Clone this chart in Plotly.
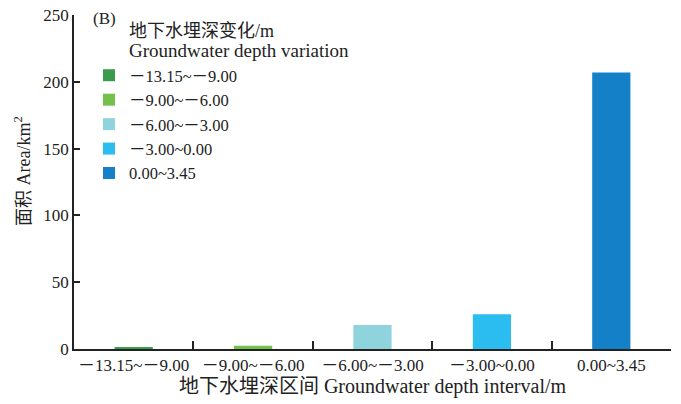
import plotly.graph_objects as go

categories = ["－13.15~－9.00", "－9.00~－6.00", "－6.00~－3.00", "－3.00~0.00", "0.00~3.45"]
areas = [1.2, 2.5, 18.0, 26.0, 207.0]
bar_colors = ["#3a9a4e", "#74c04c", "#8fd3dd", "#2cbdf0", "#1480c8"]
y_ticks = [0, 50, 100, 150, 200, 250]

FONT = "Liberation Serif, Times New Roman, Noto Sans CJK SC, serif"

W, H = 681, 404
L, R, T, B = 74, 10, 15, 55
pw, ph = W - L - R, H - T - B

def px(x, y):
    # screen pixel -> paper coordinates
    return (x - L) / pw, 1 - (y - T) / ph

fig = go.Figure()
for i, (cat, val) in enumerate(zip(categories, areas)):
    fig.add_trace(go.Bar(
        x=[cat], y=[val], name=cat,
        marker=dict(color=bar_colors[i], line=dict(width=0)),
        width=0.32, legendgroup=str(i), showlegend=True,
    ))

lx, ly = px(89, 58)

anns = []
for text, xp, yp, size, ang, xa in [
    ("(B)", 91, 18, 17, 0, "left"),
    ("地下水埋深变化/m", 127, 31, 18, 0, "left"),
    ("Groundwater depth variation", 127, 50, 19, 0, "left"),
    ("面积 Area/km<sup>2</sup>", 22, 171, 18, -90, "center"),
]:
    xx, yy = px(xp, yp)
    anns.append(dict(text=text, x=xx, y=yy, xref="paper", yref="paper",
                     xanchor=xa, yanchor="middle", showarrow=False, textangle=ang,
                     font=dict(size=size, family=FONT, color="#222")))

fig.update_layout(
    width=W, height=H,
    margin=dict(l=L, r=R, t=T, b=B, autoexpand=False),
    plot_bgcolor="white", paper_bgcolor="white",
    barmode="overlay",
    font=dict(family=FONT, size=17, color="#222"),
    showlegend=True,
    legend=dict(
        x=lx, y=ly, xanchor="left", yanchor="top",
        bgcolor="rgba(0,0,0,0)", font=dict(size=16.5, family=FONT),
        tracegroupgap=0, itemclick=False,
    ),
    xaxis=dict(
        type="category", categoryorder="array", categoryarray=categories,
        range=[-0.5, 4.5], automargin=False, tickangle=0,
        showline=True, linecolor="#222", linewidth=1.5,
        ticks="inside", tickson="boundaries", ticklen=8, tickwidth=1.5, tickcolor="#222",
        showgrid=False, tickfont=dict(size=17), ticklabeloverflow="allow",
        title=dict(text="地下水埋深区间 Groundwater depth interval/m", standoff=4, font=dict(size=20)),
    ),
    yaxis=dict(
        range=[0, 250], tickvals=y_ticks, automargin=False,
        showline=True, linecolor="#222", linewidth=1.5,
        ticks="inside", ticklen=6, tickwidth=1.5, tickcolor="#222",
        showgrid=False, zeroline=False, tickfont=dict(size=17), ticklabeloverflow="allow",
    ),
    annotations=anns,
)

fig.write_html("out.html",
               config={"displayModeBar": False},
               post_script="document.body.style.margin='0';document.body.style.overflow='hidden';")
